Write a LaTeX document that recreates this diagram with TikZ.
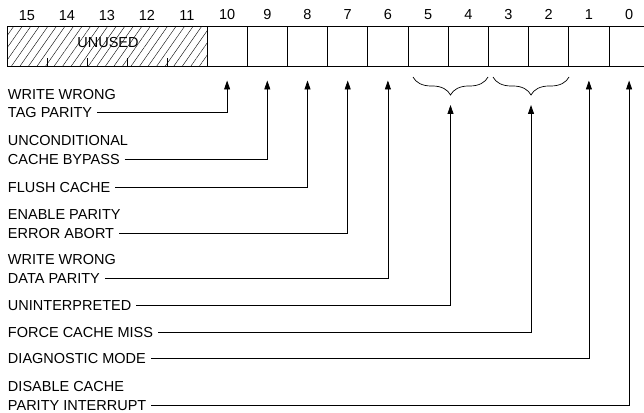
\documentclass[tikz,border=0pt]{standalone}
\usepackage{fontspec}
\setmainfont{Liberation Sans}
\usetikzlibrary{positioning,arrows.meta,patterns.meta,decorations.pathreplacing}

\begin{document}
\begin{tikzpicture}[x=1pt, y=1pt, font=\fontsize{14.5}{17}\selectfont,
    cell/.style={draw, line width=1pt, minimum width=40.2pt, minimum height=40pt, inner sep=0pt},
    txt/.style={inner sep=0pt, text height=10.4pt, text depth=0pt},
    lbl/.style={txt, anchor=west, outer xsep=5pt},
    sig/.style={line width=0.8pt, -{Triangle[length=9pt,width=6pt]}},
    curly/.style={decorate, decoration={brace, mirror, amplitude=18pt}, line width=0.7pt}]

    \useasboundingbox (0,0) rectangle (644,412);
    \clip (0,0) rectangle (644,412);

    % Unused field, bits 15-11
    \draw[line width=1pt, pattern={Lines[angle=55, distance=7pt, line width=0.4pt]}] (7,345) rectangle (207,385);
    \foreach \x in {47,87,127,167}
      \draw[line width=0.8pt] (\x,345) -- (\x,354);
    \node[txt] (unused) at (108,370) {UNUSED};
    \foreach \b in {15,...,11}
      \node[txt] (n\b) at ({27+(15-\b)*40},397) {\b};

    % Bits 10-0
    \foreach \b in {10,...,0} {
      \node[cell] (c\b) at ({227.1+(10-\b)*40.2},365) {};
      \node[txt, above=7pt of c\b] (n\b) {\b};
      \coordinate[below=13pt of c\b] (t\b);
    }

    % Braces over the paired bits
    \draw[curly] (413,335) -- (488,335);
    \draw[curly] (493,335) -- (569,335);
    \coordinate (t54) at (450.5,307);
    \coordinate (t32) at (531,307);

    % Labels
    \node[lbl] (wtag1) at (3,318) {WRITE WRONG};
    \node[lbl] (wtag2) at (3,300) {TAG PARITY};
    \node[lbl] (bypass1) at (3,272) {UNCONDITIONAL};
    \node[lbl] (bypass2) at (3,253) {CACHE BYPASS};
    \node[lbl] (flush) at (3,225) {FLUSH CACHE};
    \node[lbl] (abort1) at (3,198) {ENABLE PARITY};
    \node[lbl] (abort2) at (3,179) {ERROR ABORT};
    \node[lbl] (wdata1) at (3,153) {WRITE WRONG};
    \node[lbl] (wdata2) at (3,134) {DATA PARITY};
    \node[lbl] (unint) at (3,107) {UNINTERPRETED};
    \node[lbl] (miss) at (3,80) {FORCE CACHE MISS};
    \node[lbl] (diag) at (3,54) {DIAGNOSTIC MODE};
    \node[lbl] (dis1) at (3,26) {DISABLE CACHE};
    \node[lbl] (dis2) at (3,7) {PARITY INTERRUPT};

    % Leads to the bits
    \draw[sig] (wtag2.east) -| (t10);
    \draw[sig] (bypass2.east) -| (t9);
    \draw[sig] (flush.east) -| (t8);
    \draw[sig] (abort2.east) -| (t7);
    \draw[sig] (wdata2.east) -| (t6);
    \draw[sig] (unint.east) -| (t54);
    \draw[sig] (miss.east) -| (t32);
    \draw[sig] (diag.east) -| (t1);
    \draw[sig] (dis2.east) -| (t0);

\end{tikzpicture}
\end{document}
